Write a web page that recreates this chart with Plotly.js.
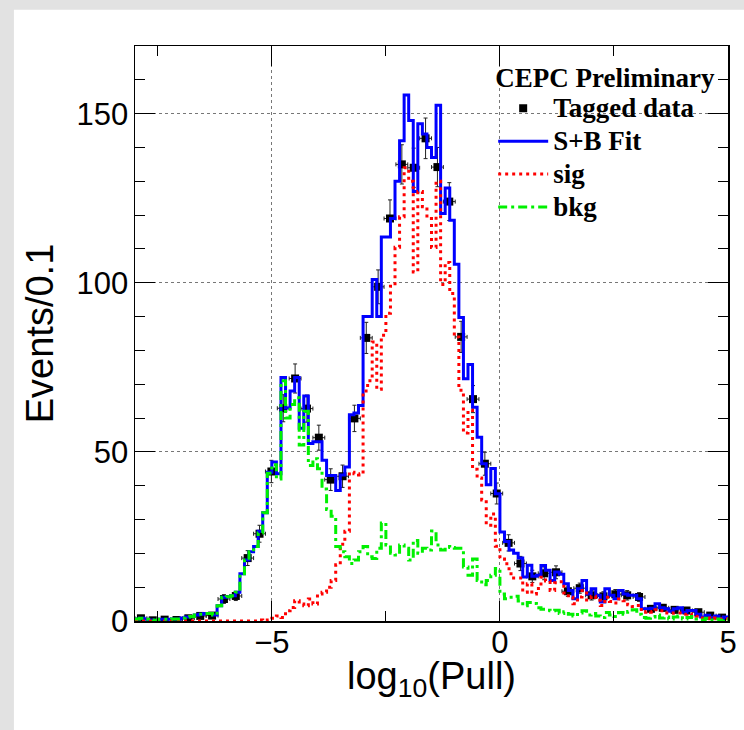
<!DOCTYPE html>
<html>
<head>
<meta charset="utf-8">
<script src="https://cdn.plot.ly/plotly-3.0.1.min.js"></script>
<style>html,body{margin:0;padding:0;background:#fff;}#plot{width:744px;height:730px;}</style>
</head>
<body>
<div id="plot"></div>
<script>
// Histogram binning of the fit components: 130 bins of 0.1 from -8 to 5
const binLow = -8;
const binWidth = 0.1;
const nBins = 130;

// S+B fit (Events/0.1)
const fitTotal = [
  0.6,0.8,0.5,0.3,0.2,0.5,0.5,0.5,0.6,0.6,
  0.9,1.2,1.3,1.8,2.0,2.2,2.2,1.8,4.5,7.0,
  7.2,7.5,8.5,14,18,20.5,22,26.5,32,44,
  47,43.5,72,63,68,72,57,66.5,52.5,53,
  53,47.5,43,43,38.6,43.2,45.5,61,61.5,63.7,
  90,90,101,90,113.5,113.5,119,130,142,155.5,
  148,127,147,144,140,137,152.5,120.5,128,118.5,
  105.5,89.7,71.6,75.8,63.2,54.3,46.5,40.3,45.1,37.6,
  26.3,23.5,21,20,18.6,13,16.5,13.2,13.5,16.4,
  15,12,14.5,13.8,11,9,6.6,9.5,12,8,
  9.5,7.6,5.6,9.5,7.6,6.6,9,8,7.6,7.6,
  6.6,3.6,3.6,3.8,5.1,3.9,3.6,2.9,3.6,3.9,
  2.6,3.1,3.1,2.0,1.2,1.7,1.0,1.5,0.8,1.2
];

// signal component
const sigValues = [
  0,0,0,0,0,0,0,0,0,0,
  0,0,0,0,0,0,0,0,0,0,
  0,0,0,0,0,0,0,0.3,0.1,0.3,
  0.8,1.5,1.0,3.0,4.0,6.0,5.0,4.5,6.5,5.0,
  8.0,8.5,10,12,16.6,22.7,26.5,44,43.5,43.2,
  68,71,82.5,68.5,84.5,91,99,110.5,119.5,134,
  130,103.2,127,122.5,119,110.4,130,99.5,106,96.8,
  84,68.2,55.6,62.3,44.9,42.3,35.8,28.3,31.6,22.1,
  18.3,16.9,14,12.7,12.7,8.5,11,8,9.6,12.9,
  11.8,9,11.3,11.6,8.3,7,5.1,7.1,9,6.2,
  7.3,6.1,4.6,7,5.8,5.3,6.5,6,4.8,4.3,
  4.6,2.6,2.8,2.6,3.3,3,2.4,2.3,2.4,2.4,
  2,2.1,1.8,1.4,0.9,0.9,0.7,0.9,0.6,0.7
];

// background component
const bkgValues = [
  0.6,0.8,0.5,0.3,0.2,0.5,0.5,0.5,0.6,0.6,
  0.9,1.2,1.3,1.8,2.0,2.2,2.2,1.8,4.5,7.0,
  7.2,7.5,8.5,14,18,20.5,22,26,32,43.7,
  46.2,42,71,60,64,66,52,62,46,48,
  45,39,33,31,22,20.5,19,17,18,20.5,
  22,19,18.5,21.5,29,22.5,20,19.5,22.5,21.5,
  18,23.8,20,21.5,21,26.6,22.5,21,22,21.7,
  21.5,21.5,16,13.5,18.3,12,10.7,12,13.5,15.5,
  8,6.6,7,7.3,5.9,4.5,5.5,5.2,3.9,3.5,
  3.2,3.0,3.2,2.2,2.7,2.0,1.5,2.4,3.0,1.8,
  2.2,1.5,1.0,2.5,1.8,1.3,2.5,2.0,2.8,3.3,
  2.0,1.0,0.8,1.2,1.8,0.9,1.2,0.6,1.2,1.5,
  0.6,1.0,1.3,0.6,0.3,0.8,0.3,0.6,0.2,0.5
];

// Tagged data: bin centres, values and errors
const dataX = [
  -7.87,-7.61,-7.35,-7.09,-6.83,-6.57,-6.31,-6.05,-5.79,-5.53,
  -5.27,-5.01,-4.75,-4.49,-4.23,-3.97,-3.71,-3.45,-3.19,-2.93,
  -2.67,-2.41,-2.15,-1.89,-1.63,-1.37,-1.11,-0.85,-0.59,-0.33,
  -0.07,0.19,0.45,0.71,0.97,1.23,1.49,1.75,2.01,2.27,
  2.53,2.79,3.05,3.31,3.57,3.83,4.09,4.35,4.61,4.87
];
const dataY = [
  0.8,0.2,0.4,0.3,0.8,1.5,1.6,6.5,7.4,18.6,
  25.8,44.2,62.9,71.7,62.8,54.2,41.8,42.8,59.9,83.7,
  98.8,119,135,134,142.7,134.2,124,84,65.6,46.5,
  37.7,23.1,17,13.2,14.1,14.4,8.8,9.7,7.6,7.3,
  7.9,7.6,7.1,3.6,3.9,3.3,3.1,2.6,1.6,1.0
];
const dataErr = [
  0.45,0.22,0.32,0.27,0.45,0.6,0.6,1.3,1.35,2.2,
  2.5,3.3,4.0,4.3,4.0,3.7,3.2,3.3,3.9,4.6,
  5.0,5.5,5.8,5.8,6.0,5.8,5.6,4.6,4.0,3.4,
  3.1,2.4,2.1,1.8,1.9,1.9,1.5,1.5,1.4,1.35,
  1.4,1.4,1.3,0.95,1.0,0.9,0.9,0.8,0.65,0.5
];
const dataHalfWidth = 0.13;

// legend texts
const legendHeader = 'CEPC Preliminary';
const seriesNames = ['Tagged data', 'S+B Fit', 'sig', 'bkg'];

// step-histogram helper: bin edges and values with the last value repeated
const edges = [];
for (let i = 0; i <= nBins; i++) edges.push(+(binLow + i * binWidth).toFixed(2));
const stepY = v => v.concat([v[v.length - 1]]);
const legName = s => '<span style="font-size:27px">' + s + '</span>';

const traces = [
  {
    name: legName(seriesNames[0]), x: dataX, y: dataY, type: 'scatter', mode: 'markers',
    marker: {symbol: 'square', size: 8, color: '#000'},
    error_y: {type: 'data', array: dataErr, visible: true, color: '#222', thickness: 1, width: 2},
    error_x: {type: 'constant', value: dataHalfWidth, visible: true, color: '#222', thickness: 1, width: 2},
    legendrank: 1
  },
  {
    name: legName(seriesNames[1]), x: edges, y: stepY(fitTotal), type: 'scatter', mode: 'lines',
    line: {shape: 'hv', color: '#0000ff', width: 3}, legendrank: 2
  },
  {
    name: legName(seriesNames[2]), x: edges, y: stepY(sigValues), type: 'scatter', mode: 'lines',
    line: {shape: 'hv', color: '#ff0000', width: 3, dash: '3px,4px'}, legendrank: 3
  },
  {
    name: legName(seriesNames[3]), x: edges, y: stepY(bkgValues), type: 'scatter', mode: 'lines',
    line: {shape: 'hv', color: '#00f000', width: 3, dash: '9px,4px,3px,4px'}, legendrank: 4
  }
];

const tickFont = {family: 'Liberation Sans, Arial, sans-serif', size: 31, color: '#000'};
const titleFont = {family: 'Liberation Sans, Arial, sans-serif', size: 38, color: '#000'};
const legFont = {family: 'Liberation Serif, Times New Roman, serif', size: 23, color: '#000', weight: 'bold'};
const legTitleFont = {family: 'Liberation Serif, Times New Roman, serif', size: 27, color: '#000', weight: 'bold'};

const layout = {
  width: 744, height: 730,
  margin: {l: 135, r: 16, t: 46, b: 109, pad: 0, autoexpand: false},
  paper_bgcolor: '#e2e2e2',
  plot_bgcolor: '#ffffff',
  showlegend: true,
  legend: {
    x: 0.604, y: 0.99, xanchor: 'left', yanchor: 'top',
    bgcolor: 'rgba(0,0,0,0)', borderwidth: 0,
    font: legFont, itemwidth: 50, tracegroupgap: 0,
    title: {text: legendHeader, font: legTitleFont, side: 'top'}
  },
  xaxis: {
    range: [-8, 5], tick0: 0, dtick: 5,
    ticks: 'inside', ticklen: 20, tickwidth: 1, tickcolor: '#000',
    minor: {dtick: 2.5, tick0: 0, ticks: 'inside', ticklen: 10, tickwidth: 1, tickcolor: '#000', showgrid: false},
    showline: true, linecolor: '#000', linewidth: 1.5, mirror: 'ticks',
    showgrid: true, gridcolor: '#777', griddash: 'dot', gridwidth: 1,
    zeroline: false, tickfont: tickFont, ticklabelstandoff: -7
  },
  yaxis: {
    range: [0, 170], tick0: 0, dtick: 50,
    ticks: 'inside', ticklen: 20, tickwidth: 1, tickcolor: '#000',
    minor: {dtick: 10, tick0: 0, ticks: 'inside', ticklen: 10, tickwidth: 1, tickcolor: '#000', showgrid: false},
    showline: true, linecolor: '#000', linewidth: 1.5, mirror: 'ticks',
    showgrid: true, gridcolor: '#777', griddash: 'dot', gridwidth: 1,
    zeroline: false, tickfont: tickFont, ticklabelstandoff: -1,
    title: {text: 'Events/0.1', font: titleFont, standoff: 11}
  },
  annotations: [{
    text: 'log<sub>10</sub>(Pull)', xref: 'paper', yref: 'paper',
    x: 0.5, y: -0.1, xanchor: 'center', yanchor: 'middle',
    showarrow: false, font: titleFont, borderpad: 0
  }],
  shapes: [{
    type: 'rect', xref: 'paper', yref: 'paper', layer: 'below',
    x0: -0.2042, x1: 1.06, y0: -0.21, y1: 1.063,
    fillcolor: '#ffffff', line: {width: 0}
  }]
};

Plotly.newPlot('plot', traces, layout, {displayModeBar: false, staticPlot: true});
</script>
</body>
</html>
